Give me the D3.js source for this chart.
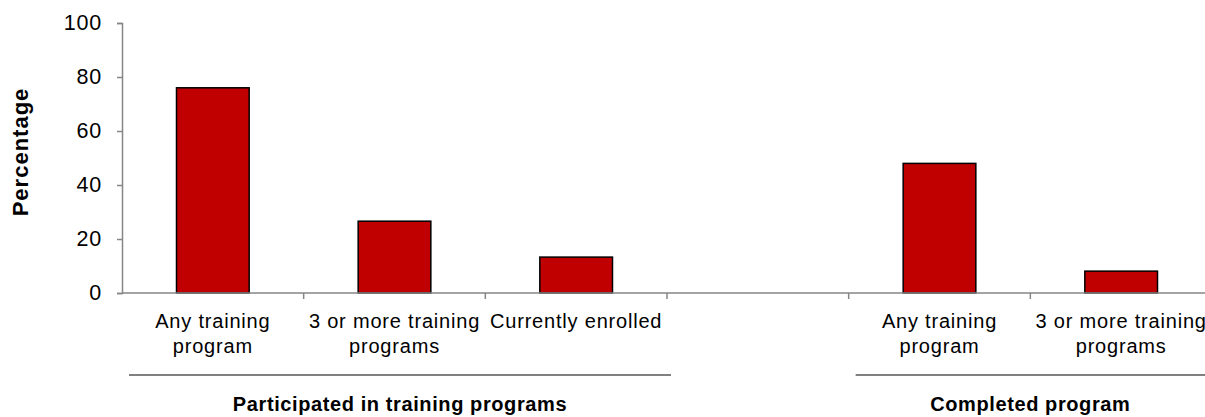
<!DOCTYPE html>
<html>
<head>
<meta charset="utf-8">
<script src="https://cdn.jsdelivr.net/npm/d3@7"></script>
<style>
  html, body { margin: 0; padding: 0; background: #fff; }
  svg { display: block; font-family: "Liberation Sans", Arial, sans-serif; }
</style>
</head>
<body>
<svg id="chart" width="1205" height="417"></svg>
<script>
// Category labels, one entry per slot (each entry is the list of wrapped lines)
const categoryLines = [
  ["Any training", "program"],
  ["3 or more training", "programs"],
  ["Currently enrolled"],
  [],
  ["Any training", "program"],
  ["3 or more training", "programs"]
];
// Percentage values per slot (null = empty spacer slot)
const values = [76, 26.6, 13.3, null, 48, 8.1];
// Group headers with the first and last slot index they span
const groupNames = ["Participated in training programs", "Completed program"];
const groupStart = [0, 4];
const groupEnd = [2, 5];
const yTicks = [0, 20, 40, 60, 80, 100];

const svg = d3.select("#chart");
const plotLeft = 122, plotRight = 1212, plotTop = 23, plotBottom = 293;
const axisColor = "#868686";

const x = d3.scaleBand()
  .domain(d3.range(categoryLines.length))
  .range([plotLeft, plotRight])
  .paddingInner(0.6)
  .paddingOuter(0.3);

const y = d3.scaleLinear().domain([0, 100]).range([plotBottom, plotTop]);

// Y axis
const yAxis = svg.append("g")
  .attr("transform", `translate(${plotLeft},0)`)
  .call(d3.axisLeft(y).tickValues(yTicks).tickSize(5).tickPadding(15));
yAxis.select(".domain").attr("stroke", axisColor).attr("stroke-width", 1.5);
yAxis.selectAll(".tick line").attr("stroke", axisColor).attr("stroke-width", 1.5);
yAxis.selectAll(".tick text")
  .attr("font-size", 21.5)
  .attr("letter-spacing", 0.8)
  .attr("fill", "#000")
  .attr("font-family", "Liberation Sans, Arial, sans-serif");

// Y axis title
svg.append("text")
  .attr("transform", `translate(28,152) rotate(-90)`)
  .attr("text-anchor", "middle")
  .attr("font-size", 22)
  .attr("font-weight", "bold")
  .attr("letter-spacing", 1)
  .text("Percentage");

// Bars
const step = x.step();
const bw = x.bandwidth();
const bandPad = (step - bw) / 2;
svg.append("g").selectAll("rect")
  .data(values.map((v, i) => ({ v, i })).filter(d => d.v !== null))
  .join("rect")
  .attr("x", d => x(d.i))
  .attr("y", d => y(d.v))
  .attr("width", bw)
  .attr("height", d => y(0) - y(d.v))
  .attr("fill", "#C00000")
  .attr("stroke", "#000")
  .attr("stroke-width", 1.5);

// X axis baseline and slot boundary ticks
svg.append("line")
  .attr("x1", plotLeft).attr("x2", plotRight)
  .attr("y1", y(0)).attr("y2", y(0))
  .attr("stroke", axisColor).attr("stroke-width", 1.5);
svg.append("g").selectAll("line")
  .data(d3.range(1, categoryLines.length))
  .join("line")
  .attr("x1", i => x(i) - bandPad).attr("x2", i => x(i) - bandPad)
  .attr("y1", y(0)).attr("y2", y(0) + 6)
  .attr("stroke", axisColor).attr("stroke-width", 1.5);

// Category labels
const catG = svg.append("g");
categoryLines.forEach((lines, i) => {
  const cx = x(i) + bw / 2;
  const t = catG.append("text")
    .attr("text-anchor", "middle")
    .attr("font-size", 20)
    .attr("letter-spacing", 0.8);
  lines.forEach((ln, k) => {
    t.append("tspan").attr("x", cx).attr("y", 328 + k * 25).text(ln);
  });
});

// Group brackets and names
groupNames.forEach((name, g) => {
  const x1 = x(groupStart[g]) - bandPad + 7;
  const x2 = x(groupEnd[g]) + bw + bandPad + 4;
  svg.append("line")
    .attr("x1", x1).attr("x2", x2)
    .attr("y1", 375).attr("y2", 375)
    .attr("stroke", "#808080").attr("stroke-width", 2);
  svg.append("text")
    .attr("x", (x1 + Math.min(x2, 1205)) / 2)
    .attr("y", 411)
    .attr("text-anchor", "middle")
    .attr("font-size", 20)
    .attr("font-weight", "bold")
    .attr("letter-spacing", 0.6)
    .text(name);
});
</script>
</body>
</html>
